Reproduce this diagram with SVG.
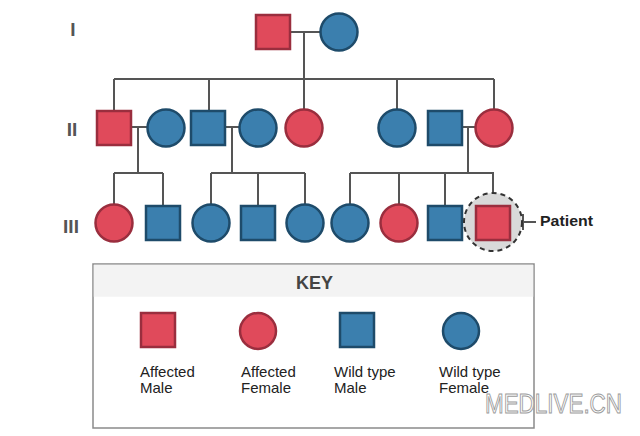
<svg xmlns="http://www.w3.org/2000/svg" width="640" height="436" viewBox="0 0 640 436">
<style>
.aff{fill:#e04a5b;stroke:#9a2e3e;stroke-width:2.5}
.wt{fill:#3b7fae;stroke:#1e4b6a;stroke-width:2.5}
.ln{stroke:#555;stroke-width:2;fill:none}
.gen{font-family:"Liberation Sans",Arial,sans-serif;font-weight:bold;font-size:19px;fill:#555}
.lbl{font-family:"Liberation Sans",Arial,sans-serif;font-size:15px;fill:#222}
</style>
<rect width="640" height="436" fill="#fff"/>
<g id="generation-labels">
<text class="gen" x="73" y="36" text-anchor="middle">I</text>
<text class="gen" x="72" y="136" text-anchor="middle">II</text>
<text class="gen" x="71" y="233" text-anchor="middle">III</text>
</g>
<g id="connectors">
<path class="ln" d="M290 32H321M304 32V79M114 79H494M114 79V111M209 79V111M304 79V110M397 79V110M494 79V110"/>
<path class="ln" d="M131 127H148M138 127V173M225 127H240M232 127V173M462 127H476M468 127V173"/>
<path class="ln" d="M114 173H163M114 173V205M163 173V206M211 173H305M211 173V205M258 173V206M305 173V205M350 173H494M350 173V205M399 173V205M445 173V206M493 173V206"/>
<path class="ln" d="M523 214V230M523 222H536"/>
</g>
<g id="I-1"><rect class="aff" x="256" y="15" width="34" height="34"/></g>
<g id="I-2"><circle class="wt" cx="339" cy="32" r="18.5"/></g>
<g id="II-1"><rect class="aff" x="97" y="111" width="34" height="34"/></g>
<g id="II-2"><circle class="wt" cx="166" cy="128" r="18.5"/></g>
<g id="II-3"><rect class="wt" x="191" y="111" width="34" height="34"/></g>
<g id="II-4"><circle class="wt" cx="258" cy="128" r="18.5"/></g>
<g id="II-5"><circle class="aff" cx="304" cy="128" r="18.5"/></g>
<g id="II-6"><circle class="wt" cx="397" cy="128" r="18.5"/></g>
<g id="II-7"><rect class="wt" x="428" y="111" width="34" height="34"/></g>
<g id="II-8"><circle class="aff" cx="494" cy="128" r="18.5"/></g>
<g id="III-1"><circle class="aff" cx="114" cy="223" r="18.5"/></g>
<g id="III-2"><rect class="wt" x="146" y="206" width="34" height="34"/></g>
<g id="III-3"><circle class="wt" cx="211" cy="223" r="18.5"/></g>
<g id="III-4"><rect class="wt" x="241" y="206" width="34" height="34"/></g>
<g id="III-5"><circle class="wt" cx="305" cy="223" r="18.5"/></g>
<g id="III-6"><circle class="wt" cx="350" cy="223" r="18.5"/></g>
<g id="III-7"><circle class="aff" cx="399" cy="223" r="18.5"/></g>
<g id="III-8"><rect class="wt" x="428" y="206" width="34" height="34"/></g>
<g id="III-9-patient">
<circle cx="493" cy="222" r="29" fill="#d9d9d9" stroke="#333" stroke-width="2" stroke-dasharray="5 4"/>
<rect class="aff" x="476" y="206" width="34" height="34"/>
<text x="540" y="226" font-family="'Liberation Sans',Arial,sans-serif" font-weight="bold" font-size="14" fill="#222" textLength="53" lengthAdjust="spacingAndGlyphs">Patient</text>
</g>
<g id="key">
<rect x="93" y="264" width="441" height="164" fill="#fff" stroke="#8a8a8a" stroke-width="1.5"/>
<rect x="93.75" y="264.75" width="439.5" height="32" fill="#f3f3f3"/>
<text x="314.5" y="289" text-anchor="middle" font-family="'Liberation Sans',Arial,sans-serif" font-weight="bold" font-size="18" fill="#444">KEY</text>
<rect class="aff" x="141" y="313" width="34" height="34"/>
<circle class="aff" cx="258" cy="331" r="18"/>
<rect class="wt" x="340" y="313" width="34" height="34"/>
<circle class="wt" cx="461" cy="331" r="18"/>
<text class="lbl" x="140" y="377">Affected</text><text class="lbl" x="140" y="393">Male</text>
<text class="lbl" x="241" y="377">Affected</text><text class="lbl" x="241" y="393">Female</text>
<text class="lbl" x="334" y="377">Wild type</text><text class="lbl" x="334" y="393">Male</text>
<text class="lbl" x="439" y="377">Wild type</text><text class="lbl" x="439" y="393">Female</text>
</g>
<g id="watermark">
<text x="485" y="413" font-family="'Liberation Sans',Arial,sans-serif" font-size="27" fill="#fff" stroke="#9a9a9a" stroke-width="1" textLength="137" lengthAdjust="spacingAndGlyphs">MEDLIVE.CN</text>
</g>
</svg>
